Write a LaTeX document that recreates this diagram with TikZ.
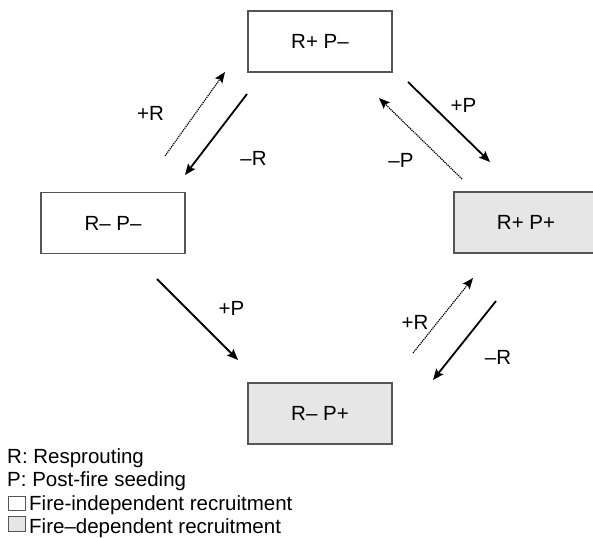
\documentclass[tikz,border=0pt]{standalone}
\usepackage{fontspec}
\setmainfont{Liberation Sans}
\usetikzlibrary{arrows.meta}
\definecolor{boxline}{HTML}{555555}
\definecolor{boxfill}{HTML}{E6E6E6}
\tikzset{
  statebox/.style={draw=boxline, line width=1.2pt, minimum width=144pt, minimum height=61pt, inner sep=0pt, text height=14.7pt, text depth=0pt},
  firedep/.style={statebox, fill=boxfill},
  lab/.style={inner sep=0pt, text height=14.7pt, text depth=0pt},
  gain/.style={line width=1.8pt, -{Stealth[length=11pt,width=9pt,inset=2pt]}},
  loss/.style={line width=1.2pt, dash pattern=on 1.2pt off 0.9pt, -{Stealth[length=11pt,width=9pt,inset=2pt,line width=0pt]}},
  legtext/.style={anchor=base west, inner sep=0pt},
  legbox/.style={draw=boxline, line width=1pt}
}
\begin{document}
\begin{tikzpicture}[x=1pt,y=-1pt,font=\fontsize{20.5}{24}\selectfont]
\clip (0,0) rectangle (593,537);
% states
\node[statebox] (rpm) at (320,41.5) {R+ P–};
\node[statebox] (rmpm) at (113,223) {R– P–};
\node[firedep] (rpp) at (526,222.5) {R+ P+};
\node[firedep] (rmpp) at (320,413.5) {R– P+};
% arrow end points
\coordinate (a1s) at (165,156); \coordinate (a1e) at (225,72);
\coordinate (a2s) at (247,94);  \coordinate (a2e) at (185,175);
\coordinate (a3s) at (408,82);  \coordinate (a3e) at (490,162);
\coordinate (a4s) at (462,179); \coordinate (a4e) at (379,98);
\coordinate (a5s) at (157,279); \coordinate (a5e) at (238,360);
\coordinate (a6s) at (413,353); \coordinate (a6e) at (473,278);
\coordinate (a7s) at (496,301); \coordinate (a7e) at (433,380);
\draw[loss] (a1s) -- (a1e);
\draw[gain] (a2s) -- (a2e);
\draw[gain] (a3s) -- (a3e);
\draw[loss] (a4s) -- (a4e);
\draw[gain] (a5s) -- (a5e);
\draw[loss] (a6s) -- (a6e);
\draw[gain] (a7s) -- (a7e);
% labels
\node[lab] (l1) at (150.5,113) {+R};
\node[lab] (l2) at (253.5,158) {–R};
\node[lab] (l3) at (463.5,105) {+P};
\node[lab] (l4) at (401,160) {–P};
\node[lab] (l5) at (231.5,308) {+P};
\node[lab] (l6) at (415,322) {+R};
\node[lab] (l7) at (498,357) {–R};
% legend
\node[legtext] (g1) at (7,463.3) {R: Resprouting};
\node[legtext] (g2) at (7,486.7) {P: Post-fire seeding};
\draw[legbox] (8.3,496) rectangle (25,510.7);
\node[legtext] (g3) at (29,510) {Fire-independent recruitment};
\draw[legbox, fill=boxfill] (8.3,516.7) rectangle (25,531.7);
\node[legtext] (g4) at (29,533.3) {Fire–dependent recruitment};
\end{tikzpicture}
\end{document}
